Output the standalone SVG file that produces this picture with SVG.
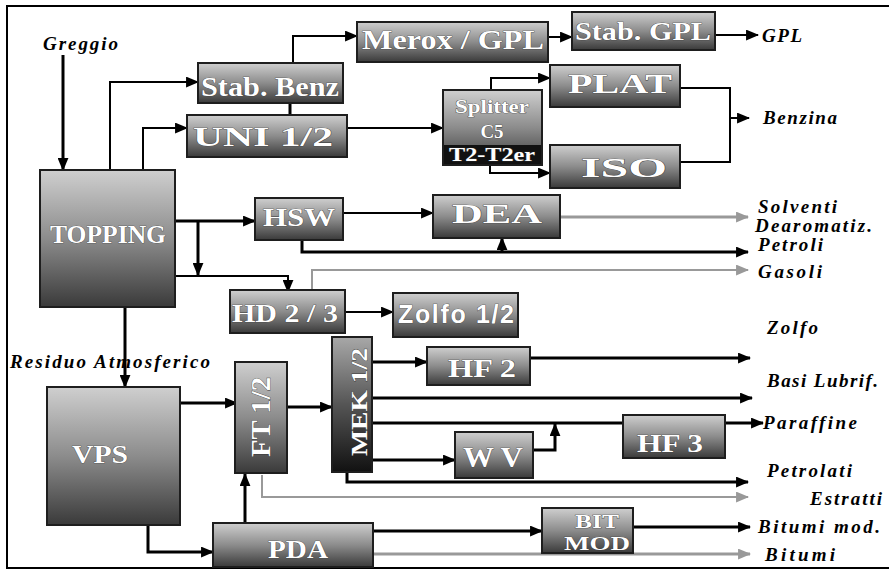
<svg xmlns="http://www.w3.org/2000/svg" width="889" height="570" viewBox="0 0 889 570">
<defs>
<linearGradient id="g" x1="0" y1="0" x2="0" y2="1">
<stop offset="0" stop-color="#cfcfcf"/>
<stop offset="0.5" stop-color="#8c8c8c"/>
<stop offset="1" stop-color="#3a3a3a"/>
</linearGradient>
<linearGradient id="gd" x1="0" y1="0" x2="0" y2="1">
<stop offset="0" stop-color="#a8a8a8"/>
<stop offset="0.5" stop-color="#555"/>
<stop offset="1" stop-color="#111"/>
</linearGradient>
<marker id="a" viewBox="0 0 12 10" refX="11" refY="5" markerWidth="13" markerHeight="11" markerUnits="userSpaceOnUse" orient="auto">
<path d="M0,0 L12,5 L0,10 z" fill="#000"/>
</marker>
<marker id="ag" viewBox="0 0 12 10" refX="11" refY="5" markerWidth="13" markerHeight="11" markerUnits="userSpaceOnUse" orient="auto">
<path d="M0,0 L12,5 L0,10 z" fill="#999"/>
</marker>
</defs>
<style>
.box{fill:url(#g);stroke:#1e1e1e;stroke-width:2}
.dbox{fill:url(#gd);stroke:#1e1e1e;stroke-width:2}
.nt{font-family:"Liberation Serif",serif;font-weight:bold;fill:#fff;stroke:#3a3a3a;stroke-width:0.7;paint-order:stroke;text-anchor:middle}
.ns{font-family:"Liberation Sans",sans-serif;font-weight:bold;fill:#fff;stroke:#3a3a3a;stroke-width:0.7;paint-order:stroke;text-anchor:middle}
.lb{font-family:"Liberation Serif",serif;font-weight:bold;font-style:italic;font-size:19px;fill:#000}
.c{fill:none;stroke:#000;stroke-width:3}
.c2{fill:none;stroke:#000;stroke-width:2}
.cg{fill:none;stroke:#999;stroke-width:3}
.cg2{fill:none;stroke:#999;stroke-width:2}
.fr{fill:none;stroke:#000;stroke-width:2}
</style>
<rect width="889" height="570" fill="#fff"/>
<path class="fr" d="M889,6 H7 V568 H889"/>

<g id="connectors">
<path class="c" d="M63,55 V170" marker-end="url(#a)"/>
<path class="c2" d="M110,170 V82 H198" marker-end="url(#a)"/>
<path class="c2" d="M143,170 V128 H187" marker-end="url(#a)"/>
<path class="c2" d="M293,63 V36 H357" marker-end="url(#a)"/>
<path class="c" d="M290,103 V128" marker-end="url(#a)"/>
<path class="c2" d="M548,37 H572" marker-end="url(#a)"/>
<path class="c2" d="M715,35 H758" marker-end="url(#a)"/>
<path class="c2" d="M347,128 H443" marker-end="url(#a)"/>
<path class="c2" d="M491,90 V78 H550" marker-end="url(#a)"/>
<path class="c2" d="M490,165 V173 H550" marker-end="url(#a)"/>
<path class="c2" d="M680,88 H730 V162 H680"/>
<path class="c2" d="M730,118 H749" marker-end="url(#a)"/>
<path class="c" d="M175,221 H255" marker-end="url(#a)"/>
<path class="c" d="M198,221 V275" marker-end="url(#a)"/>
<path class="c2" d="M175,276 H288 V292" marker-end="url(#a)"/>
<path class="c2" d="M343,213 H433" marker-end="url(#a)"/>
<path class="cg" d="M560,217 H748" marker-end="url(#ag)"/>
<path class="c" d="M302,240 V252 H748" marker-end="url(#a)"/>
<path class="c" d="M502,252 V238" marker-end="url(#a)"/>
<path class="cg2" d="M312,290 V270 H748" marker-end="url(#ag)"/>
<path class="c2" d="M345,312 H393" marker-end="url(#a)"/>
<path class="c" d="M125,307 V387" marker-end="url(#a)"/>
<path class="c" d="M180,403 H237" marker-end="url(#a)"/>
<path class="c" d="M287,407 H332" marker-end="url(#a)"/>
<path class="c" d="M372,362 H427" marker-end="url(#a)"/>
<path class="c" d="M530,358 H750" marker-end="url(#a)"/>
<path class="c" d="M372,398 H752" marker-end="url(#a)"/>
<path class="c" d="M372,423 H623"/>
<path class="c" d="M725,423 H763" marker-end="url(#a)"/>
<path class="c" d="M372,460 H455" marker-end="url(#a)"/>
<path class="c" d="M533,450 H555 V424" marker-end="url(#a)"/>
<path class="c" d="M347,472 V482 H748" marker-end="url(#a)"/>
<path class="cg2" d="M262,475 V497 H748" marker-end="url(#ag)"/>
<path class="c" d="M148,525 V552 H213" marker-end="url(#a)"/>
<path class="c" d="M245,523 V474" marker-end="url(#a)"/>
<path class="c" d="M373,531 H542" marker-end="url(#a)"/>
<path class="c" d="M633,527 H750" marker-end="url(#a)"/>
<path class="cg" d="M373,554 H750" marker-end="url(#ag)"/>
</g>

<g id="topping"><rect class="box" x="40" y="170" width="135" height="137"/><text class="nt" x="108" y="243" font-size="26" textLength="116" lengthAdjust="spacingAndGlyphs">TOPPING</text></g>
<g id="stab-benz"><rect class="box" x="198" y="63" width="145" height="40"/><text class="nt" x="270" y="96" font-size="27" textLength="138" lengthAdjust="spacingAndGlyphs">Stab. Benz</text></g>
<g id="uni"><rect class="box" x="187" y="115" width="160" height="42"/><text class="nt" x="263" y="146" font-size="28" textLength="140" lengthAdjust="spacingAndGlyphs">UNI 1/2</text></g>
<g id="merox"><rect class="box" x="357" y="22" width="191" height="40"/><text class="nt" x="453" y="49" font-size="27" textLength="182" lengthAdjust="spacingAndGlyphs">Merox / GPL</text></g>
<g id="stab-gpl"><rect class="box" x="572" y="12" width="143" height="38"/><text class="nt" x="643" y="40" font-size="26" textLength="136" lengthAdjust="spacingAndGlyphs">Stab. GPL</text></g>
<g id="splitter"><rect class="box" x="443" y="90" width="99" height="75"/><rect x="444" y="145" width="97" height="19" fill="#111"/><text class="nt" x="492" y="113" font-size="18" textLength="74" lengthAdjust="spacingAndGlyphs">Splitter</text><text class="nt" x="492" y="138" font-size="19">C5</text><text class="nt" x="492" y="161" font-size="18" textLength="86" lengthAdjust="spacingAndGlyphs">T2-T2er</text></g>
<g id="plat"><rect class="box" x="550" y="65" width="130" height="42"/><text class="nt" x="620" y="93" font-size="28" textLength="104" lengthAdjust="spacingAndGlyphs">PLAT</text></g>
<g id="iso"><rect class="box" x="550" y="145" width="130" height="43"/><text class="nt" x="624" y="177" font-size="28" textLength="86" lengthAdjust="spacingAndGlyphs">ISO</text></g>
<g id="hsw"><rect class="box" x="255" y="198" width="88" height="42"/><text class="nt" x="299" y="226" font-size="25" textLength="72" lengthAdjust="spacingAndGlyphs">HSW</text></g>
<g id="dea"><rect class="box" x="433" y="195" width="127" height="43"/><text class="nt" x="497" y="223" font-size="27" textLength="90" lengthAdjust="spacingAndGlyphs">DEA</text></g>
<g id="hd"><rect class="box" x="230" y="290" width="115" height="43"/><text class="nt" x="285" y="322" font-size="26" textLength="106" lengthAdjust="spacingAndGlyphs">HD 2 / 3</text></g>
<g id="zolfo"><rect class="box" x="393" y="293" width="125" height="44"/><text class="ns" x="456" y="323" font-size="25" textLength="116" lengthAdjust="spacing">Zolfo 1/2</text></g>
<g id="vps"><rect class="box" x="47" y="387" width="133" height="138"/><text class="nt" x="100" y="463" font-size="26" textLength="56" lengthAdjust="spacingAndGlyphs">VPS</text></g>
<g id="ft"><rect class="box" x="235" y="362" width="52" height="111"/><text class="nt" transform="translate(270,417) rotate(-90)" font-size="27" textLength="80" lengthAdjust="spacingAndGlyphs">FT 1/2</text></g>
<g id="mek"><rect class="dbox" x="332" y="337" width="40" height="135"/><text class="nt" transform="translate(367,402) rotate(-90)" font-size="24" textLength="108" lengthAdjust="spacingAndGlyphs">MEK 1/2</text></g>
<g id="hf2"><rect class="box" x="427" y="347" width="103" height="38"/><text class="nt" x="482" y="377" font-size="25" textLength="68" lengthAdjust="spacingAndGlyphs">HF 2</text></g>
<g id="wv"><rect class="box" x="455" y="432" width="78" height="46"/><text class="nt" x="493" y="467" font-size="29" textLength="60" lengthAdjust="spacingAndGlyphs">W V</text></g>
<g id="hf3"><rect class="box" x="623" y="415" width="102" height="43"/><text class="nt" x="670" y="452" font-size="25" textLength="66" lengthAdjust="spacingAndGlyphs">HF 3</text></g>
<g id="pda"><rect class="box" x="213" y="523" width="160" height="44"/><text class="nt" x="298" y="558" font-size="26" textLength="60" lengthAdjust="spacingAndGlyphs">PDA</text></g>
<g id="bit-mod"><rect class="box" x="542" y="508" width="91" height="45"/><text class="nt" x="597" y="528" font-size="19" textLength="44" lengthAdjust="spacingAndGlyphs">BIT</text><text class="nt" x="597" y="550" font-size="19" textLength="66" lengthAdjust="spacingAndGlyphs">MOD</text></g>

<g id="labels">
<text class="lb" x="43" y="50" textLength="75" lengthAdjust="spacing">Greggio</text>
<text class="lb" x="762" y="42" textLength="40" lengthAdjust="spacing">GPL</text>
<text class="lb" x="763" y="124" textLength="74" lengthAdjust="spacing">Benzina</text>
<text class="lb" x="758" y="213" textLength="79" lengthAdjust="spacing">Solventi</text>
<text class="lb" x="755" y="232" textLength="117" lengthAdjust="spacing">Dearomatiz.</text>
<text class="lb" x="758" y="251" textLength="65" lengthAdjust="spacing">Petroli</text>
<text class="lb" x="758" y="278" textLength="64" lengthAdjust="spacing">Gasoli</text>
<text class="lb" x="767" y="334" textLength="51" lengthAdjust="spacing">Zolfo</text>
<text class="lb" x="767" y="387" textLength="111" lengthAdjust="spacing">Basi Lubrif.</text>
<text class="lb" x="763" y="429" textLength="94" lengthAdjust="spacing">Paraffine</text>
<text class="lb" x="767" y="477" textLength="85" lengthAdjust="spacing">Petrolati</text>
<text class="lb" x="810" y="505" textLength="72" lengthAdjust="spacing">Estratti</text>
<text class="lb" x="758" y="533" textLength="122" lengthAdjust="spacing">Bitumi mod.</text>
<text class="lb" x="765" y="561" textLength="70" lengthAdjust="spacing">Bitumi</text>
<text class="lb" x="10" y="368" textLength="200" lengthAdjust="spacing">Residuo Atmosferico</text>
</g>
</svg>
